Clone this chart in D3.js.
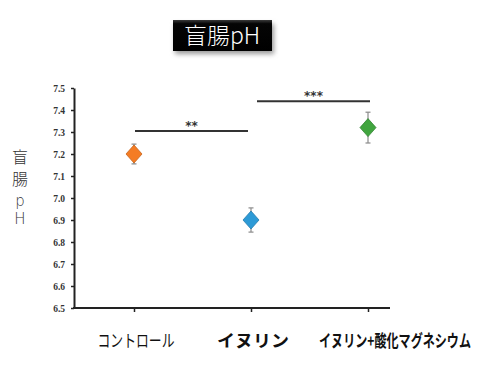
<!DOCTYPE html>
<html>
<head>
<meta charset="utf-8">
<script src="https://d3js.org/d3.v7.min.js"></script>
<style>
    body { margin: 0; background: #fff; }
    svg { display: block; }
</style>
</head>
<body>
<div id="chart"></div>
<script>
    // data
    const groups = ["コントロール", "イヌリン", "イヌリン+酸化マグネシウム"];
    const means = [7.20, 6.90, 7.32];
    const errs = [0.045, 0.055, 0.07];
    const colors = ["#f47c24", "#2d9ad6", "#41a53f"];
    const yTicks = [6.5, 6.6, 6.7, 6.8, 6.9, 7.0, 7.1, 7.2, 7.3, 7.4, 7.5];
    // significance brackets: [from index, to index, level, stars]
    const sigFrom = [0, 1];
    const sigTo = [1, 2];
    const sigLevel = [7.305, 7.44];
    const sigStars = ["**", "***"];

    const width = 480, height = 367;

    const svg = d3.select("#chart").append("svg")
        .attr("width", width)
        .attr("height", height);

    const defs = svg.append("defs");
    const grad = defs.append("linearGradient").attr("id", "tg").attr("x1", 0).attr("x2", 0).attr("y1", 0).attr("y2", 1);
    grad.append("stop").attr("offset", "0%").attr("stop-color", "#3a3a3a");
    grad.append("stop").attr("offset", "12%").attr("stop-color", "#050505");
    grad.append("stop").attr("offset", "100%").attr("stop-color", "#000");
    const blur = defs.append("filter").attr("id", "sh").attr("x", "-20%").attr("y", "-20%").attr("width", "140%").attr("height", "160%");
    blur.append("feGaussianBlur").attr("stdDeviation", 2.5);

    // title box
    svg.append("rect").attr("x", 175).attr("y", 24).attr("width", 99).attr("height", 30)
        .attr("fill", "#999").attr("filter", "url(#sh)");
    svg.append("rect").attr("x", 173).attr("y", 20).attr("width", 99).attr("height", 31)
        .attr("fill", "url(#tg)");
    svg.append("text").attr("x", 222).attr("y", 44)
        .attr("text-anchor", "middle")
        .attr("fill", "#fff")
        .style("font-family", "'Noto Sans CJK JP', sans-serif")
        .style("font-weight", "300")
        .style("font-size", "23px")
        .text("盲腸pH");

    const x = d3.scalePoint().domain(groups).range([134, 368]);
    const y = d3.scaleLinear().domain([6.5, 7.5]).range([308, 88]);

    const axisX0 = 74, axisX1 = 390;

    // y axis
    const yAxis = svg.append("g")
        .attr("transform", `translate(${axisX0},0)`)
        .call(d3.axisLeft(y).tickValues(yTicks).tickFormat(d3.format(".1f")).tickSize(3).tickSizeOuter(0));
    yAxis.select(".domain").attr("stroke", "#222").attr("stroke-width", 2);
    yAxis.selectAll(".tick line").attr("stroke", "#222").attr("stroke-width", 1.5);
    yAxis.selectAll(".tick text")
        .attr("x", -9)
        .attr("fill", "#333")
        .style("font-family", "'Liberation Serif', serif")
        .style("font-weight", "bold")
        .style("font-size", "9.5px");

    // x axis
    const xAxis = svg.append("g")
        .attr("transform", `translate(0,${y(6.5)})`)
        .call(d3.axisBottom(x).tickSize(4).tickFormat(""));
    xAxis.select(".domain").remove();
    xAxis.selectAll(".tick line").attr("stroke", "#222").attr("stroke-width", 1.5);
    svg.append("line")
        .attr("x1", axisX0 - 1).attr("x2", axisX1)
        .attr("y1", y(6.5)).attr("y2", y(6.5))
        .attr("stroke", "#222").attr("stroke-width", 2);

    // x labels, squeezed horizontally like the condensed original font
    const labelDx = [2, 2, 27];
    const labelLen = [77, 72, 152];
    const labelWeight = ["normal", "bold", "bold"];
    svg.append("g").selectAll("text")
        .data(groups)
        .join("text")
        .attr("text-anchor", "middle")
        .attr("fill", "#111")
        .style("font-family", "'Noto Sans CJK JP', sans-serif")
        .style("font-weight", (d, i) => labelWeight[i])
        .style("font-size", "17px")
        .text(d => d)
        .attr("transform", function(d, i) {
            const sx = labelLen[i] / this.getComputedTextLength();
            return `translate(${x(d) + labelDx[i]},347) scale(${sx},1)`;
        });

    // y label, stacked vertically
    const yLabelChars = ["盲", "腸", "p", "H"];
    const yLabelPos = [156, 178, 201, 219];
    const yLabelFont = ["'Noto Sans CJK JP', sans-serif", "'Noto Sans CJK JP', sans-serif", "'DejaVu Sans', sans-serif", "'DejaVu Sans', sans-serif"];
    const yLabelSize = [16, 16, 15, 15];
    svg.append("g").selectAll("text")
        .data(yLabelChars)
        .join("text")
        .attr("x", 20)
        .attr("y", (d, i) => yLabelPos[i])
        .attr("text-anchor", "middle")
        .attr("dominant-baseline", "central")
        .attr("fill", "#333")
        .style("font-family", (d, i) => yLabelFont[i])
        .style("font-weight", "300")
        .style("font-size", (d, i) => yLabelSize[i] + "px")
        .text(d => d);

    // significance brackets
    const sig = svg.append("g");
    sigLevel.forEach((lv, i) => {
        const xa = x(groups[sigFrom[i]]) + 1;
        const xb = x(groups[sigTo[i]]) - (i === 0 ? 3 : -2);
        const xs = i === 0 ? xa : xa + 5;
        sig.append("line")
            .attr("x1", xs).attr("x2", xb)
            .attr("y1", y(lv)).attr("y2", y(lv))
            .attr("stroke", "#333").attr("stroke-width", 2);
        sig.append("text")
            .attr("x", (xs + xb) / 2)
            .attr("y", y(lv) - 1)
            .attr("text-anchor", "middle")
            .attr("fill", "#333")
            .style("font-family", "'DejaVu Sans', sans-serif")
            .style("font-weight", "bold")
            .style("font-size", "12px")
            .text(sigStars[i]);
    });

    // error bars
    const eb = svg.append("g").attr("stroke", "#8a8a8a").attr("stroke-width", 1.2);
    groups.forEach((g, i) => {
        const cx = x(g);
        eb.append("line").attr("x1", cx).attr("x2", cx)
            .attr("y1", y(means[i] + errs[i])).attr("y2", y(means[i] - errs[i]));
        [means[i] + errs[i], means[i] - errs[i]].forEach(v => {
            eb.append("line").attr("x1", cx - 2.5).attr("x2", cx + 2.5)
                .attr("y1", y(v)).attr("y2", y(v));
        });
    });

    // diamond markers
    svg.append("g").selectAll("path")
        .data(groups)
        .join("path")
        .attr("d", (d, i) => {
            const cx = x(d), cy = y(means[i]);
            return `M${cx},${cy - 9}L${cx + 8},${cy}L${cx},${cy + 9}L${cx - 8},${cy}Z`;
        })
        .attr("fill", (d, i) => colors[i])
        .attr("stroke", (d, i) => d3.color(colors[i]).darker(0.6))
        .attr("stroke-width", 0.8);
</script>
</body>
</html>
